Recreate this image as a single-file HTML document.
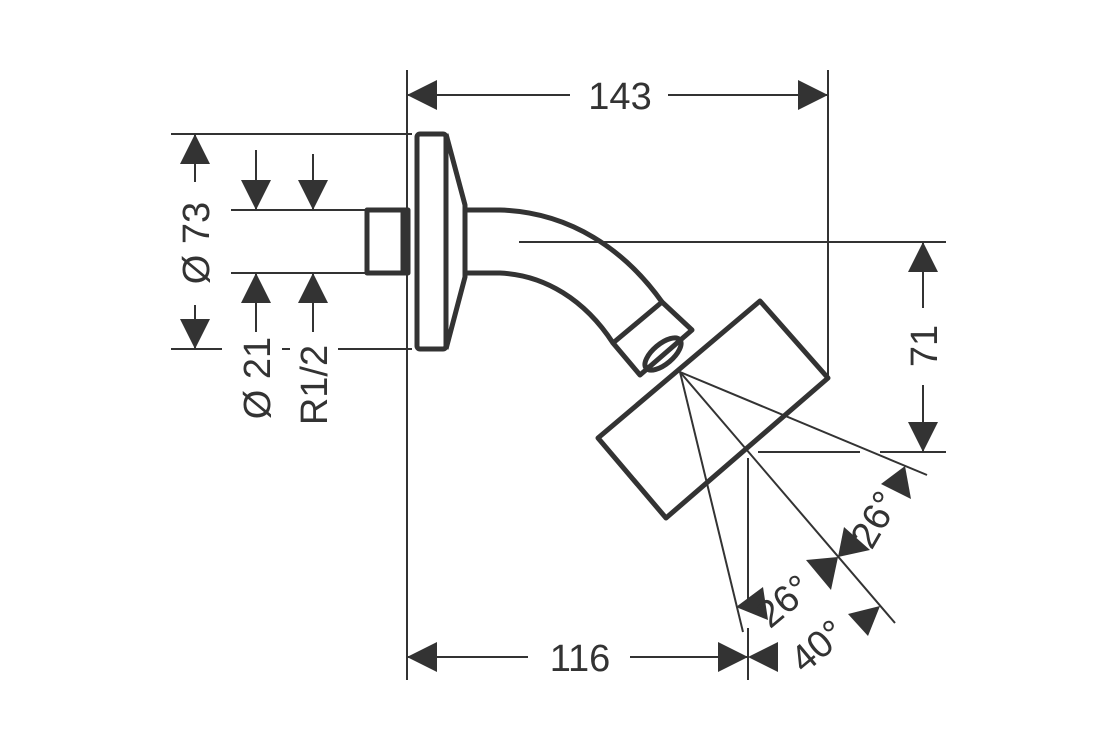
<!DOCTYPE html>
<html><head><meta charset="utf-8"><style>
html,body{margin:0;padding:0;background:#fff;}
svg{display:block;}
text{font-family:"Liberation Sans",sans-serif;fill:#333;font-size:38px;}
</style></head><body>
<svg width="1120" height="750" viewBox="0 0 1120 750" xmlns="http://www.w3.org/2000/svg">
<g stroke="#333" fill="none" stroke-width="2">
<line x1="407" y1="70" x2="407" y2="680"/>
<line x1="828" y1="70" x2="828" y2="378"/>
<line x1="171" y1="134" x2="412" y2="134"/>
<line x1="171" y1="349" x2="222" y2="349"/>
<line x1="282" y1="349" x2="290" y2="349"/>
<line x1="338" y1="349" x2="412" y2="349"/>
<line x1="231" y1="210" x2="365" y2="210"/>
<line x1="231" y1="273" x2="365" y2="273"/>
<line x1="519" y1="242" x2="946" y2="242"/>
<line x1="758" y1="452" x2="860" y2="452"/>
<line x1="880" y1="452" x2="946" y2="452"/>
<line x1="748" y1="458" x2="748" y2="600"/>
<line x1="748" y1="628" x2="748" y2="680"/>
<line x1="680" y1="372" x2="927" y2="475"/>
<line x1="680" y1="372" x2="895" y2="623"/>
<line x1="680" y1="372" x2="743" y2="632"/>
<line x1="407" y1="95" x2="570" y2="95"/>
<line x1="668" y1="95" x2="828" y2="95"/>
<line x1="407" y1="657" x2="528" y2="657"/>
<line x1="630" y1="657" x2="748" y2="657"/>
<line x1="923" y1="242" x2="923" y2="308"/>
<line x1="923" y1="385" x2="923" y2="452"/>
<line x1="195" y1="134" x2="195" y2="182"/>
<line x1="195" y1="305" x2="195" y2="349"/>
<line x1="256" y1="150" x2="256" y2="210"/>
<line x1="256" y1="273" x2="256" y2="332"/>
<line x1="313" y1="154" x2="313" y2="210"/>
<line x1="313" y1="273" x2="313" y2="332"/>
</g>
<g fill="#333">
<polygon points="407,95 437,80 437,110"/>
<polygon points="828,95 798,80 798,110"/>
<polygon points="407,657 437,642 437,672"/>
<polygon points="748,657 718,642 718,672"/>
<polygon points="748,657 778,642 778,672"/>
<polygon points="923,242 908,272 938,272"/>
<polygon points="923,452 908,422 938,422"/>
<polygon points="195,134 180,164 210,164"/>
<polygon points="195,349 180,319 210,319"/>
<polygon points="256,210 241,180 271,180"/>
<polygon points="256,273 241,303 271,303"/>
<polygon points="313,210 298,180 328,180"/>
<polygon points="313,273 298,303 328,303"/>
<polygon points="736,607 763,587 768,620"/>
<polygon points="838,557 806,560 831,590"/>
<polygon points="838,557 844,527 870,550"/>
<polygon points="881,484 905,466 911,499"/>
<polygon points="848,614 880,606 868,636"/>
</g>
<g stroke="#333" fill="none" stroke-width="5" stroke-linejoin="round">
<rect x="417" y="134" width="29" height="215" rx="3"/>
<polyline points="446,134 465,205 465,277 446,349"/>
<rect x="367" y="210" width="41" height="63"/>
<line x1="403" y1="210" x2="403" y2="273"/>
<path d="M467,210 L500,210 C570,212 625,250 662,302"/>
<path d="M467,273 L500,273 C545,275 585,300 613,343"/>
<polygon points="662,302 613,343 640,375 692,330"/>
<ellipse cx="663" cy="354" rx="22" ry="10" transform="rotate(-40 663 354)"/>
<polygon points="760,301 828,378 666,518 598,438"/>
</g>
<text x="620" y="109" text-anchor="middle">143</text>
<text x="580" y="671" text-anchor="middle">116</text>
<text transform="translate(937,346) rotate(-90)" text-anchor="middle">71</text>
<text transform="translate(209,243) rotate(-90)" text-anchor="middle">Ø 73</text>
<text transform="translate(270,378) rotate(-90)" text-anchor="middle">Ø 21</text>
<text transform="translate(327,385) rotate(-90)" text-anchor="middle">R1/2</text>
<text transform="translate(792,611) rotate(-40)" text-anchor="middle">26°</text>
<text transform="translate(886,526) rotate(-60)" text-anchor="middle">26°</text>
<text transform="translate(826,656) rotate(-40)" text-anchor="middle">40°</text>
</svg>
</body></html>
